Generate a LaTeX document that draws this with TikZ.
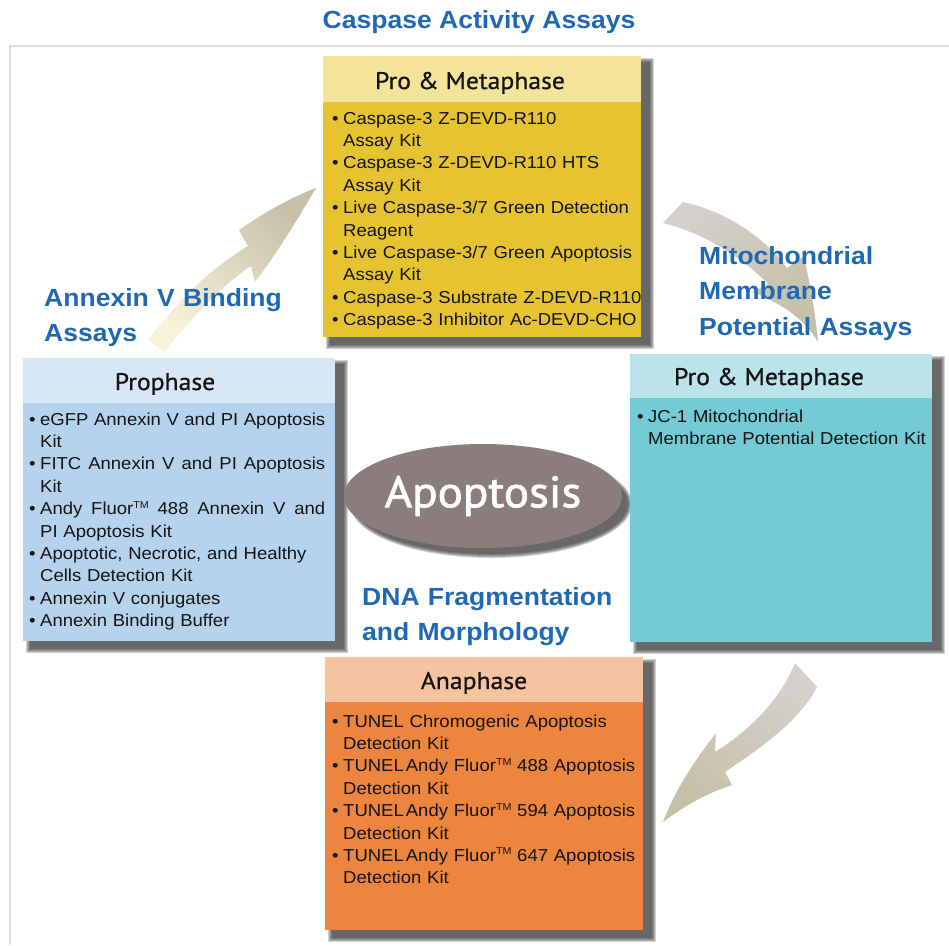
\documentclass[tikz,border=0pt]{standalone}
\usepackage{fontspec}
\setmainfont{Liberation Sans}[FakeStretch=1.07]
\newfontfamily\headfont{PT Sans}[FakeStretch=1.07, FakeBold=0.8]
\newfontfamily\apopfont{PT Sans}[FakeStretch=1.07, FakeBold=1.6]
\usetikzlibrary{shapes.geometric,backgrounds,positioning}

\definecolor{caspHead}{HTML}{F3E39B}
\definecolor{caspBody}{HTML}{E6C330}
\definecolor{annexHead}{HTML}{D7E7F3}
\definecolor{annexBody}{HTML}{B5D3EC}
\definecolor{mitoHead}{HTML}{BBE3EA}
\definecolor{mitoBody}{HTML}{74CAD5}
\definecolor{tunelHead}{HTML}{F5C3A0}
\definecolor{tunelBody}{HTML}{EC863F}
\definecolor{apopFill}{HTML}{8B7D7B}
\definecolor{assayBlue}{HTML}{1F68B3}
\definecolor{inkText}{HTML}{141414}
\definecolor{frameGrey}{HTML}{DCDCDC}
\definecolor{shadowGrey}{HTML}{262626}
\definecolor{arrowPale}{HTML}{F8F2DA}
\definecolor{arrowBeige}{HTML}{C6C0A8}
\definecolor{arrowGrey}{HTML}{D4D0CB}

\newcommand{\itm}{\makebox[11pt][l]{\textbullet}}
\newcommand{\cnt}{\hspace*{11pt}}
\newcommand{\tmark}{\raisebox{6.5pt}{\fontsize{10}{10}\selectfont TM}}
\newcommand{\jline}[1]{\hbox to 285pt{\spaceskip=0.278em plus 1fil\relax #1}}

\tikzset{
  headbox/.style 2 args={anchor=north west, minimum width=#1, minimum height=#2,
    inner sep=0pt, outer sep=0pt},
  bodybox/.style 2 args={anchor=north west, minimum width=#1, minimum height=#2,
    inner sep=0pt, outer sep=0pt},
  headtext/.style={anchor=base, inner sep=0pt, text=inkText,
    font=\headfont\fontsize{24}{24}\selectfont},
  listtext/.style={anchor=base west, inner sep=0pt, text=inkText, text width=320pt,
    align=left, font=\fontsize{17.3}{22.4}\selectfont},
  assaylabel/.style={anchor=base west, inner sep=0pt, text=assayBlue, text width=280pt,
    align=left, font=\bfseries\fontsize{24.8}{35.5}\selectfont},
}

\begin{document}
\begin{tikzpicture}[x=1pt,y=-1pt]
  \useasboundingbox (0,0) rectangle (949,945);

  % frame
  \draw[frameGrey, line width=1.2pt] (10,945) -- (10,46) -- (949,46);

  % title
  \node[anchor=base, inner sep=0pt, text=assayBlue,
    font=\bfseries\fontsize{24.8}{30}\selectfont] (title) at (479,28) {Caspase Activity Assays};

  % curved arrows
  \shade[top color=arrowBeige, bottom color=arrowPale, shading angle=-45]
    (148,340) .. controls (185,292) and (215,266) .. (248,246) -- (239,230)
    .. controls (265,212) and (290,198) .. (316,188)
    .. controls (300,215) and (278,252) .. (255,282) -- (251,266)
    .. controls (215,290) and (190,322) .. (164,352) -- cycle;
  \shade[top color=arrowGrey, bottom color=arrowBeige, shading angle=45]
    (663,223) .. controls (700,232) and (740,255) .. (768,284) -- (752,292)
    .. controls (785,305) and (805,320) .. (818,342)
    .. controls (815,310) and (810,285) .. (804,256) -- (787,268)
    .. controls (760,232) and (720,210) .. (683,202) -- cycle;
  \shade[top color=arrowGrey, bottom color=arrowBeige, shading angle=-45]
    (795,663) .. controls (780,700) and (750,730) .. (715,752) -- (716,733)
    .. controls (695,760) and (675,790) .. (663,822)
    .. controls (685,805) and (710,792) .. (732,785) -- (725,772)
    .. controls (765,745) and (800,720) .. (817,687) -- cycle;

  % Pro & Metaphase (caspase)
  \node[headbox={318pt}{46pt}, fill=caspHead] (casp-head) at (323,56) {};
  \node[bodybox={318pt}{235pt}, fill=caspBody] (casp-body) at (casp-head.south west) {};
  \node[headtext] (casp-title) at ([xshift=-12pt,yshift=13pt]casp-head.south) {Pro \& Metaphase};
  \node[listtext] (casp-list) at ([xshift=9pt,yshift=-22pt]casp-body.north west) {%
    \itm Caspase-3 Z-DEVD-R110\\
    \cnt Assay Kit\\
    \itm Caspase-3 Z-DEVD-R110 HTS\\
    \cnt Assay Kit\\
    \itm Live Caspase-3/7 Green Detection\\
    \cnt Reagent\\
    \itm Live Caspase-3/7 Green Apoptosis\\
    \cnt Assay Kit\\
    \itm Caspase-3 Substrate Z-DEVD-R110\\
    \itm Caspase-3 Inhibitor Ac-DEVD-CHO};

  % Prophase (annexin)
  \node[headbox={312pt}{45pt}, fill=annexHead] (annex-head) at (23,358) {};
  \node[bodybox={312pt}{238pt}, fill=annexBody] (annex-body) at (annex-head.south west) {};
  \node[headtext] (annex-title) at ([xshift=-14pt,yshift=13pt]annex-head.south) {Prophase};
  \node[listtext] (annex-list) at ([xshift=6pt,yshift=-22pt]annex-body.north west) {%
    \itm\jline{eGFP Annexin V and PI Apoptosis}\\
    \cnt Kit\\
    \itm\jline{FITC Annexin V and PI Apoptosis}\\
    \cnt Kit\\
    \itm\jline{Andy Fluor\tmark\ 488 Annexin V and}\\
    \cnt PI Apoptosis Kit\\
    \itm Apoptotic, Necrotic, and Healthy\\
    \cnt Cells Detection Kit\\
    \itm Annexin V conjugates\\
    \itm Annexin Binding Buffer};

  % Pro & Metaphase (mitochondrial)
  \node[headbox={302pt}{44pt}, fill=mitoHead] (mito-head) at (630,354) {};
  \node[bodybox={302pt}{244pt}, fill=mitoBody] (mito-body) at (mito-head.south west) {};
  \node[headtext] (mito-title) at ([xshift=-12pt,yshift=13pt]mito-head.south) {Pro \& Metaphase};
  \node[listtext] (mito-list) at ([xshift=7pt,yshift=-24pt]mito-body.north west) {%
    \itm JC-1 Mitochondrial\\
    \cnt Membrane Potential Detection Kit};

  % Anaphase (tunel)
  \node[headbox={318pt}{45pt}, fill=tunelHead] (tunel-head) at (325,657) {};
  \node[bodybox={318pt}{228pt}, fill=tunelBody] (tunel-body) at (tunel-head.south west) {};
  \node[headtext] (tunel-title) at ([xshift=-10pt,yshift=13pt]tunel-head.south) {Anaphase};
  \node[listtext] (tunel-list) at ([xshift=7pt,yshift=-25pt]tunel-body.north west) {%
    \itm TUNEL Chromogenic Apoptosis\\
    \cnt Detection Kit\\
    \itm TUNEL\hspace{2pt}Andy Fluor\tmark\ 488 Apoptosis\\
    \cnt Detection Kit\\
    \itm TUNEL\hspace{2pt}Andy Fluor\tmark\ 594 Apoptosis\\
    \cnt Detection Kit\\
    \itm TUNEL\hspace{2pt}Andy Fluor\tmark\ 647 Apoptosis\\
    \cnt Detection Kit};

  % centre
  \node[ellipse, fill=apopFill, minimum width=278pt, minimum height=104pt, inner sep=0pt,
    text=white, font=\apopfont\fontsize{44}{44}\selectfont] (apop) at (483,496) {Apoptosis};

  % soft shadows
  \begin{scope}[on background layer]
    \foreach \b in {casp,annex,mito,tunel}
      \foreach \s in {1,...,5}
        \fill[shadowGrey, opacity=0.21]
          ([shift={(8-\s,7-\s)}]\b-head.north west) rectangle ([shift={(8+\s,7+\s)}]\b-body.south east);
    \foreach \s in {1,...,5}
      \fill[shadowGrey, opacity=0.21]
        ([shift={(8,8)}]apop.center) ellipse [x radius={(136+\s)*1pt}, y radius={(49+\s)*1pt}];
  \end{scope}

  % assay labels
  \node[assaylabel] (annex-label) at (44,306) {Annexin V Binding\\Assays};
  \node[assaylabel] (mito-label) at (699,264) {Mitochondrial\\Membrane\\Potential Assays};
  \node[assaylabel] (dna-label) at (362,605) {DNA Fragmentation\\and Morphology};
\end{tikzpicture}
\end{document}
